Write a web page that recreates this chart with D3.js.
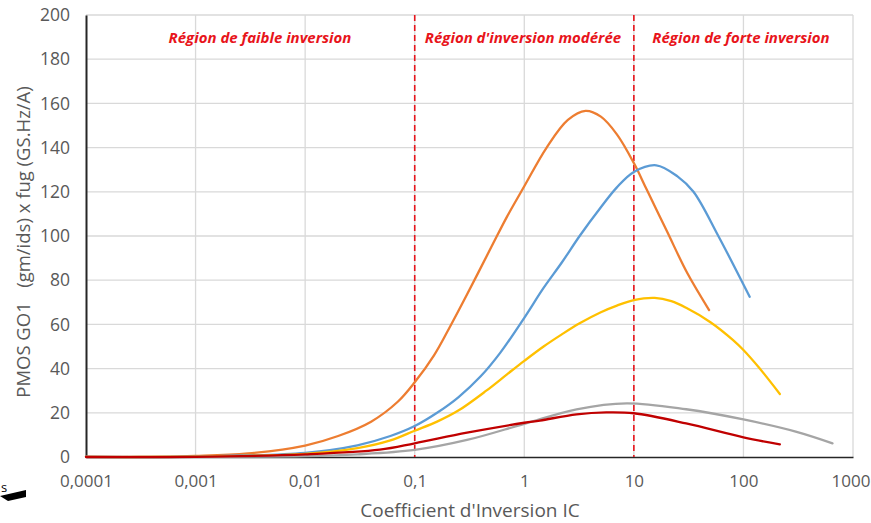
<!DOCTYPE html>
<html>
<head>
<meta charset="utf-8">
<script src="https://cdn.jsdelivr.net/npm/d3@7"></script>
<style>
  html, body { margin: 0; padding: 0; background: #fff; }
  svg { display: block; }
</style>
</head>
<body>
<svg id="chart" width="871" height="523"></svg>
<script>
// ---- data ----
const xTicks = [0.0001, 0.001, 0.01, 0.1, 1, 10, 100, 1000];
const xTickLabels = ["0,0001", "0,001", "0,01", "0,1", "1", "10", "100", "1000"];
const yTicks = [0, 20, 40, 60, 80, 100, 120, 140, 160, 180, 200];
const regionBounds = [0.1, 10];
const regionLabels = ["Région de faible inversion", "Région d'inversion modérée", "Région de forte inversion"];

const orangeIC = [0.0001, 0.0003, 0.001, 0.003, 0.01, 0.02, 0.04, 0.07, 0.1, 0.15, 0.2, 0.3, 0.5, 0.7, 1, 1.6, 2.5, 3.62, 5, 7, 10, 13.1, 20.1, 30.9, 48.6];
const orangeVal = [0.05, 0.15, 0.5, 1.6, 5.2, 9.5, 16, 25, 33.8, 46, 57, 73.5, 95, 109, 122.5, 140, 152.5, 156.6, 154, 146, 133, 121, 102, 83, 66.5];

const blueIC = [0.0001, 0.001, 0.01, 0.03, 0.06, 0.1, 0.16, 0.25, 0.4, 0.6, 1, 1.5, 2.2, 3.2, 5, 7, 10, 16, 25, 35, 59, 114];
const blueVal = [0.02, 0.2, 1.9, 5.3, 9.5, 14, 20, 27, 36.5, 47, 63, 76.5, 88, 100, 113, 122, 129, 132, 127, 120, 100, 72.5];

const yellowIC = [0.0001, 0.001, 0.01, 0.03, 0.06, 0.1, 0.16, 0.25, 0.45, 0.7, 1, 1.5, 2.2, 3.2, 5, 7, 10, 15.5, 22, 30, 50, 80, 100, 141, 215];
const yellowVal = [0.015, 0.15, 1.4, 4, 7.5, 11.9, 16, 21, 30, 37.5, 43.5, 50, 55.5, 60.5, 65.5, 68.5, 71, 72, 70.5, 67.5, 61, 53, 48.4, 40, 28.5];

const grayIC = [0.0001, 0.001, 0.01, 0.03, 0.1, 0.3, 1, 3, 8.6, 30, 100, 300, 650];
const grayVal = [0.01, 0.05, 0.4, 1.2, 3.2, 7.7, 15, 21.6, 24.3, 21.6, 17, 11.5, 6.2];

const redIC = [0.0001, 0.001, 0.01, 0.048, 0.1, 0.3, 1, 1.39, 3, 5.6, 10, 30, 100, 215];
const redVal = [0.01, 0.1, 1.2, 3.3, 6.2, 11, 15.5, 16.5, 19.3, 20.2, 19.8, 15.2, 8.9, 5.7];

const seriesColors = ["#ED7D31", "#5B9BD5", "#FFC000", "#A5A5A5", "#C00000"];

// ---- layout ----
const svg = d3.select("#chart");
const mLeft = 86, mRight = 853, mTop = 15, mBottom = 457;

const x = d3.scaleLog().domain([0.0001, 1000]).range([mLeft, mRight]);
const y = d3.scaleLinear().domain([0, 200]).range([mBottom, mTop]);

const font = "'Open Sans', 'Liberation Sans', sans-serif";

// grid
svg.append("g").selectAll("line").data(yTicks.filter(d => d > 0)).join("line")
  .attr("x1", mLeft).attr("x2", mRight)
  .attr("y1", d => y(d)).attr("y2", d => y(d))
  .attr("stroke", "#d9d9d9").attr("stroke-width", 1.3);
svg.append("g").selectAll("line").data(xTicks.filter(d => d > 0.0001)).join("line")
  .attr("x1", d => x(d)).attr("x2", d => x(d))
  .attr("y1", mTop).attr("y2", mBottom)
  .attr("stroke", "#d9d9d9").attr("stroke-width", 1.3);

// axes
const yAxis = d3.axisLeft(y).tickValues(yTicks).tickSize(0).tickPadding(16);
const gy = svg.append("g").attr("transform", `translate(${mLeft},0)`).call(yAxis);
gy.select(".domain").attr("stroke", "#262626").attr("stroke-width", 2);
gy.selectAll("text").attr("font-family", font).attr("font-size", 17.5).attr("fill", "#595959");

const xAxis = d3.axisBottom(x).tickValues(xTicks).tickFormat((d, i) => xTickLabels[i]).tickSize(0).tickPadding(18);
const gx = svg.append("g").attr("transform", `translate(0,${mBottom})`).call(xAxis);
gx.select(".domain").attr("stroke", "#262626").attr("stroke-width", 1.5);
gx.selectAll("text").attr("font-family", font).attr("font-size", 17).attr("fill", "#595959");
// keep the last label inside the picture
gx.selectAll(".tick").filter(d => d === 1000).select("text").attr("text-anchor", "end").attr("dx", 17);

// region dashed lines
svg.append("g").selectAll("line").data(regionBounds).join("line")
  .attr("x1", d => x(d)).attr("x2", d => x(d))
  .attr("y1", mTop).attr("y2", mBottom)
  .attr("stroke", "#E8141B").attr("stroke-width", 1.6)
  .attr("stroke-dasharray", "6,4");

// curves
const line = d3.line().x(d => x(d[0])).y(d => y(d[1])).curve(d3.curveCatmullRom.alpha(0.5));
const series = [
  [orangeIC, orangeVal], [blueIC, blueVal], [yellowIC, yellowVal], [grayIC, grayVal], [redIC, redVal]
];
series.forEach((s, i) => {
  const pts = s[0].map((v, j) => [v, s[1][j]]);
  svg.append("path").datum(pts)
    .attr("d", line).attr("fill", "none")
    .attr("stroke", seriesColors[i]).attr("stroke-width", 2.3)
    .attr("stroke-linecap", "round");
});

// region labels
svg.append("g").selectAll("text").data(regionLabels).join("text")
  .attr("x", (d, i) => [260, 523, 741][i])
  .attr("y", 43)
  .attr("text-anchor", "middle")
  .attr("font-family", font).attr("font-size", 15)
  .attr("font-weight", "bold").attr("font-style", "italic")
  .attr("fill", "#E8141B")
  .text(d => d);

// axis titles
svg.append("text")
  .attr("transform", "translate(30,242) rotate(-90)")
  .attr("text-anchor", "middle")
  .attr("font-family", font).attr("font-size", 18.5).attr("fill", "#595959")
  .attr("xml:space", "preserve")
  .text("PMOS GO1   (gm/ids) x fug (GS.Hz/A)");

svg.append("text")
  .attr("x", 470).attr("y", 517)
  .attr("text-anchor", "middle")
  .attr("font-family", font).attr("font-size", 19).attr("fill", "#595959")
  .text("Coefficient d'Inversion IC");

// small artifact at bottom-left
svg.append("text").attr("x", 1).attr("y", 492)
  .attr("font-family", font).attr("font-size", 13).attr("fill", "#000").text("s");
svg.append("path").attr("d", "M0,496 L26,490 L26,497 L8,501 Z").attr("fill", "#000");
</script>
</body>
</html>
